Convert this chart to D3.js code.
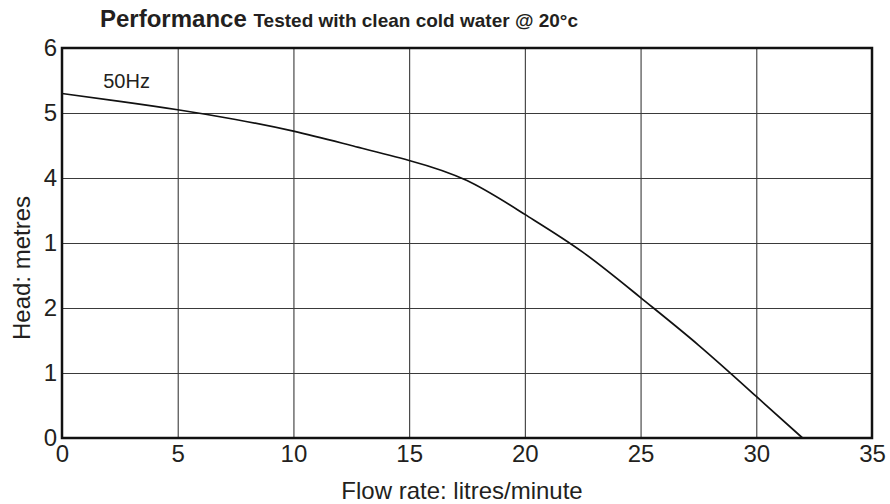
<!DOCTYPE html>
<html>
<head>
<meta charset="utf-8">
<script src="https://cdn.jsdelivr.net/npm/d3@7"></script>
<style>
  body { margin: 0; background: #fff; }
  text { font-family: "Liberation Sans", Arial, sans-serif; fill: #231f20; }
</style>
</head>
<body>
<div id="canvas"></div>
<script>
// data
const flow = [0, 2.5, 5, 7.5, 10, 12.5, 15, 17.5, 20, 22.5, 25, 27.5, 30, 32];
const head = [5.3, 5.18, 5.05, 4.9, 4.72, 4.5, 4.27, 3.96, 3.44, 2.86, 2.16, 1.43, 0.64, 0];
const xTicks = [0, 5, 10, 15, 20, 25, 30, 35];
const yTicks = [0, 1, 2, 3, 4, 5, 6];
const yTickLabels = ['0', '1', '2', '1', '4', '5', '6']; // as printed on the original
const seriesLabel = '50Hz';

const width = 890, height = 504;
const margin = {top: 48, right: 18, bottom: 66, left: 62};
const graphWidth = width - margin.left - margin.right;
const graphHeight = height - margin.top - margin.bottom;

const svg = d3.select('#canvas')
  .append('svg')
  .attr('width', width)
  .attr('height', height);

const graph = svg.append('g')
  .attr('transform', `translate(${margin.left}, ${margin.top})`);

// scales
const x = d3.scaleLinear().domain([0, 35]).range([0, graphWidth]);
const y = d3.scaleLinear().domain([0, 6]).range([graphHeight, 0]);

// grid
graph.append('g')
  .attr('class', 'grid-x')
  .call(d3.axisBottom(x).tickValues(xTicks.slice(1, -1)).tickSize(graphHeight).tickFormat(''))
  .call(g => g.select('.domain').remove())
  .selectAll('line')
    .attr('stroke', '#3a3a3a')
    .attr('stroke-width', 1.1);

graph.append('g')
  .attr('class', 'grid-y')
  .call(d3.axisLeft(y).tickValues(yTicks.slice(1, -1)).tickSize(-graphWidth).tickFormat(''))
  .call(g => g.select('.domain').remove())
  .selectAll('line')
    .attr('stroke', '#3a3a3a')
    .attr('stroke-width', 1.1);

// curve
const line = d3.line()
  .curve(d3.curveNatural)
  .x(d => x(d[0]))
  .y(d => y(d[1]));

graph.append('path')
  .datum(d3.zip(flow, head))
  .attr('fill', 'none')
  .attr('stroke', '#111')
  .attr('stroke-width', 1.7)
  .attr('d', line);

// frame
graph.append('rect')
  .attr('width', graphWidth)
  .attr('height', graphHeight)
  .attr('fill', 'none')
  .attr('stroke', '#111')
  .attr('stroke-width', 2.5);

// tick labels
const xAxisGroup = graph.append('g')
  .attr('transform', `translate(0, ${graphHeight})`)
  .call(d3.axisBottom(x).tickValues(xTicks).tickSize(0).tickPadding(7));
xAxisGroup.select('.domain').remove();
xAxisGroup.selectAll('text')
  .attr('font-size', 24)
  .attr('font-family', '"Liberation Sans", Arial, sans-serif')
  .attr('fill', '#231f20');

const yAxisGroup = graph.append('g')
  .call(d3.axisLeft(y).tickValues(yTicks).tickSize(0).tickPadding(5)
    .tickFormat((d, i) => yTickLabels[i]));
yAxisGroup.select('.domain').remove();
yAxisGroup.selectAll('text')
  .attr('font-size', 24)
  .attr('font-family', '"Liberation Sans", Arial, sans-serif')
  .attr('fill', '#231f20');

// series label
graph.append('text')
  .attr('x', x(1.78))
  .attr('y', y(5.39))
  .attr('font-size', 20)
  .text(seriesLabel);

// titles
const title = svg.append('text')
  .attr('x', 100)
  .attr('y', 27)
  .attr('font-weight', 'bold');
title.append('tspan').attr('font-size', 24).text('Performance ');
title.append('tspan').attr('font-size', 19).text('Tested with clean cold water @ 20°c');

svg.append('text')
  .attr('x', 462)
  .attr('y', 499)
  .attr('text-anchor', 'middle')
  .attr('font-size', 24)
  .text('Flow rate: litres/minute');

svg.append('text')
  .attr('transform', `translate(30, 268) rotate(-90)`)
  .attr('text-anchor', 'middle')
  .attr('font-size', 24)
  .text('Head: metres');
</script>
</body>
</html>
